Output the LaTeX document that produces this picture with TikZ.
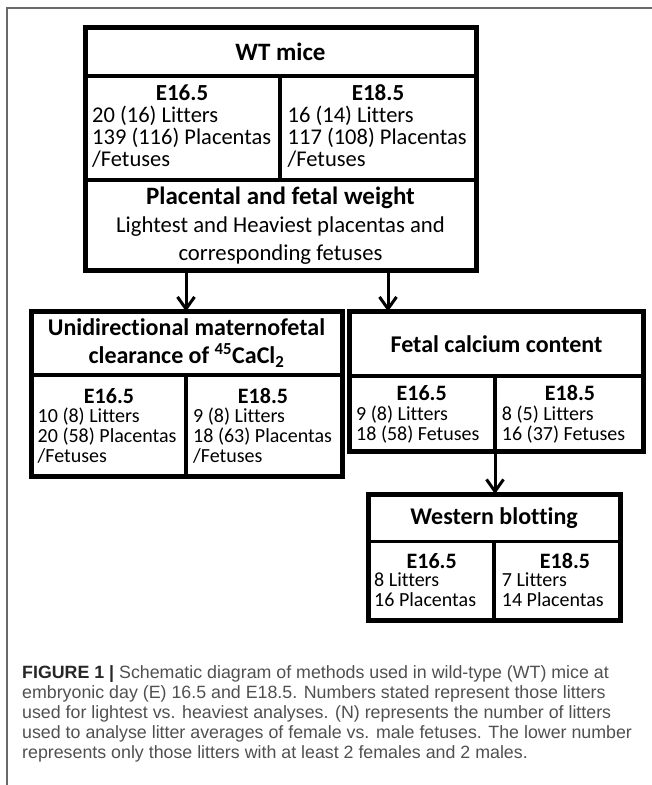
\documentclass[tikz,border=0pt]{standalone}
\usepackage{fontspec}
\setmainfont{Carlito}[Ligatures=NoCommon]
\newfontfamily\captionfont{Liberation Sans}
\usepackage{tikz}
\usetikzlibrary{arrows.meta}
\definecolor{framegray}{RGB}{105,105,105}
\definecolor{captiongray}{RGB}{80,80,80}

\begin{document}
\begin{tikzpicture}[x=1pt, y=-1pt,
    cell/.style={draw, line width=3.5pt, inner sep=0pt, outer sep=0pt, anchor=north west, align=center},
    frame/.style={draw, line width=5pt},
    boxtitle/.style={font=\bfseries\fontsize{24}{28}\selectfont},
    elabel/.style={font=\bfseries\fontsize{22}{22}\selectfont, inner sep=0pt, anchor=base},
    counts/.style={font=\fontsize{20}{20}\selectfont, inner sep=0pt, anchor=north west, align=left},
    flow/.style={->, line width=3pt, >={Straight Barb[length=12pt,width=17pt]}}
]
    \useasboundingbox (0,0) rectangle (652,785);
    \draw [framegray, line width=1.8pt] (7,785) -- (7,8) -- (652,8);

    \node [cell, minimum width=391pt, minimum height=48.5pt, font=\bfseries\fontsize{25}{28}\selectfont] (wttitle) at (85,27.5) {WT mice};
    \node [cell, minimum width=195pt, minimum height=104pt] (wt16) at (85,76) {};
    \node [cell, minimum width=196pt, minimum height=104pt] (wt18) at (280,76) {};
    \node [cell, minimum width=391pt, minimum height=90.5pt, font=\fontsize{22.7}{28}\selectfont] (wtweight) at (85,180)
        {{\bfseries\fontsize{25}{28}\selectfont Placental and fetal weight}\\Lightest and Heaviest placentas and\\corresponding fetuses};
    \draw [frame] (wttitle.north west) rectangle (wtweight.south east);
    \node [elabel, font=\bfseries\fontsize{23}{23}\selectfont] (wt16lab) at (182,100) {E16.5};
    \node [elabel, font=\bfseries\fontsize{23}{23}\selectfont] (wt18lab) at (378,100) {E18.5};
    \node [counts, font=\fontsize{22.5}{22}\selectfont] (wt16txt) at (92,106) {20 (16) Litters\\139 (116) Placentas\\/Fetuses};
    \node [counts, font=\fontsize{22.5}{22}\selectfont] (wt18txt) at (287.5,106) {16 (14) Litters\\117 (108) Placentas\\/Fetuses};

    \node [cell, boxtitle, minimum width=311pt, minimum height=63.5pt] (unititle) at (31,311.5)
        {Unidirectional maternofetal\\clearance of \textsuperscript{45}CaCl\textsubscript{2}};
    \node [cell, minimum width=155pt, minimum height=101pt] (uni16) at (31,375) {};
    \node [cell, minimum width=156pt, minimum height=101pt] (uni18) at (186,375) {};
    \draw [frame] (unititle.north west) rectangle (uni18.south east);
    \node [elabel] (uni16lab) at (109,403) {E16.5};
    \node [elabel] (uni18lab) at (263,403) {E18.5};
    \node [counts] (uni16txt) at (37.5,408) {10 (8) Litters\\20 (58) Placentas\\/Fetuses};
    \node [counts] (uni18txt) at (193,408) {9 (8) Litters\\18 (63) Placentas\\/Fetuses};

    \node [cell, boxtitle, minimum width=294pt, minimum height=64.5pt] (fettitle) at (349.5,311.5) {Fetal calcium content};
    \node [cell, minimum width=145.5pt, minimum height=75pt] (fet16) at (349.5,376) {};
    \node [cell, minimum width=148.5pt, minimum height=75pt] (fet18) at (495,376) {};
    \draw [frame] (fettitle.north west) rectangle (fet18.south east);
    \node [elabel] (fet16lab) at (421.7,400) {E16.5};
    \node [elabel] (fet18lab) at (570,400) {E18.5};
    \node [counts] (fet16txt) at (356,406) {9 (8) Litters\\18 (58) Fetuses};
    \node [counts] (fet18txt) at (501.7,406) {8 (5) Litters\\16 (37) Fetuses};

    \node [cell, boxtitle, minimum width=252pt, minimum height=47.5pt] (wbtitle) at (368,494) {Western blotting};
    \node [cell, minimum width=126pt, minimum height=79pt] (wb16) at (368,541.5) {};
    \node [cell, minimum width=126pt, minimum height=79pt] (wb18) at (494,541.5) {};
    \draw [frame] (wbtitle.north west) rectangle (wb18.south east);
    \node [elabel] (wb16lab) at (431.7,568) {E16.5};
    \node [elabel] (wb18lab) at (565,568) {E18.5};
    \node [counts] (wb16txt) at (374,573) {8 Litters\\16 Placentas};
    \node [counts] (wb18txt) at (501.7,573) {7 Litters\\14 Placentas};

    \coordinate (split) at ([xshift=38.5pt]fettitle.north west);
    \draw [flow] (wtweight.south -| uni16.east) -- (unititle.north -| uni16.east);
    \draw [flow] (wtweight.south -| split) -- (split);
    \draw [flow] (fet16.south east) -- (wbtitle.north -| fet16.south east);

    \node [font=\captionfont\fontsize{17.8}{20}\selectfont, text=captiongray, align=left, inner sep=0pt, anchor=north west] (caption) at (22,665)
        {{\color{black!85}\textbf{FIGURE 1 |}} Schematic diagram of methods used in wild-type (WT) mice at\\
        embryonic day (E) 16.5 and E18.5. Numbers stated represent those litters\\
        used for lightest vs. heaviest analyses. (N) represents the number of litters\\
        used to analyse litter averages of female vs. male fetuses. The lower number\\
        represents only those litters with at least 2 females and 2 males.};
\end{tikzpicture}
\end{document}
